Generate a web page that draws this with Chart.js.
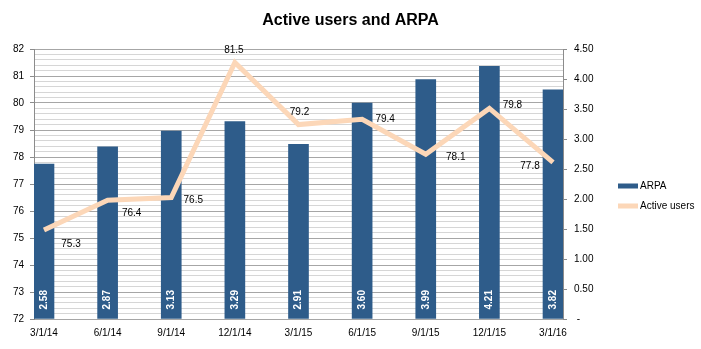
<!DOCTYPE html>
<html><head><meta charset="utf-8">
<script src="https://cdn.jsdelivr.net/npm/chart.js@4.4.1/dist/chart.umd.min.js"></script>
<style>html,body{margin:0;padding:0;background:#fff;}#wrap{width:701px;height:349px;}</style>
</head><body><div id="wrap"><canvas id="c" width="701" height="349"></canvas></div>
<script>
const categories = ['3/1/14','6/1/14','9/1/14','12/1/14','3/1/15','6/1/15','9/1/15','12/1/15','3/1/16'];
const arpa = [2.58, 2.87, 3.13, 3.29, 2.91, 3.60, 3.99, 4.21, 3.82];
const activeUsers = [75.3, 76.4, 76.5, 81.5, 79.2, 79.4, 78.1, 79.8, 77.8];
const seriesNames = ['ARPA', 'Active users'];
const titleText = 'Active users and ARPA';

const FONT = '"Liberation Sans", Arial, sans-serif';
const isInt = v => Math.abs(v - Math.round(v)) < 1e-6;

const valueLabels = {
  id: 'valueLabels',
  afterDatasetsDraw(chart, args, opts) {
    const ctx = chart.ctx;
    ctx.save();
    const barMeta = chart.getDatasetMeta(0);
    ctx.fillStyle = '#ffffff';
    ctx.font = 'bold 10px ' + FONT;
    barMeta.data.forEach((el, i) => {
      ctx.save();
      ctx.translate(el.x, el.base - 9);
      ctx.rotate(-Math.PI / 2);
      ctx.textAlign = 'left';
      ctx.textBaseline = 'middle';
      ctx.fillText(arpa[i].toFixed(2), 0, 0);
      ctx.restore();
    });
    const lineMeta = chart.getDatasetMeta(1);
    ctx.fillStyle = '#000';
    ctx.font = '10px ' + FONT;
    ctx.textAlign = 'center';
    ctx.textBaseline = 'middle';
    lineMeta.data.forEach((pt, i) => {
      const o = opts.offsets[i];
      ctx.fillText(activeUsers[i].toFixed(1), pt.x + o[0], pt.y + o[1]);
    });
    ctx.restore();
  }
};

const sideLegend = {
  id: 'sideLegend',
  afterDraw(chart, args, opts) {
    const ctx = chart.ctx;
    ctx.save();
    ctx.font = '10px ' + FONT;
    ctx.textAlign = 'left';
    ctx.textBaseline = 'middle';
    chart.data.datasets.forEach((ds, i) => {
      const y = opts.y + i * opts.gap;
      ctx.fillStyle = ds.type === 'bar' ? ds.backgroundColor : ds.borderColor;
      ctx.fillRect(opts.x, y - 2.5, 20, 5);
      ctx.fillStyle = '#000';
      ctx.fillText(ds.label, opts.x + 22, y);
    });
    ctx.restore();
  }
};

new Chart(document.getElementById('c'), {
  data: {
    datasets: [
      {
        type: 'bar', label: seriesNames[0],
        data: arpa.map((v, i) => ({x: i, y: v})),
        backgroundColor: '#2E5C8A', borderWidth: 0,
        barThickness: 20, yAxisID: 'y1', xAxisID: 'x', order: 1
      },
      {
        type: 'line', label: seriesNames[1],
        data: activeUsers.map((v, i) => ({x: i, y: v})),
        borderColor: '#FCD7B8', borderWidth: 5, pointRadius: 0, tension: 0,
        yAxisID: 'y', xAxisID: 'x', order: 0, borderJoinStyle: 'miter'
      }
    ]
  },
  options: {
    responsive: false, animation: false, devicePixelRatio: 1,
    layout: {padding: 0},
    plugins: {
      legend: {display: false},
      tooltip: {enabled: false},
      title: {
        display: true, text: titleText, color: '#000',
        font: {family: FONT, size: 16, weight: 'bold'},
        padding: {top: 11, bottom: 18.8}
      },
      valueLabels: {
        offsets: [[27, 14], [24, 13], [22, 3], [-1, -12], [1, -12], [23, 0], [30, 3], [23, -3], [-23, 4]]
      },
      sideLegend: {x: 618, y: 186, gap: 20}
    },
    scales: {
      x: {
        type: 'linear', min: -0.157, max: 8.157, offset: false,
        grid: {display: false, drawTicks: false, offset: false},
        border: {display: false},
        ticks: {
          stepSize: 1, includeBounds: false, autoSkip: false, maxRotation: 0, padding: 8,
          color: '#000', font: {family: FONT, size: 10},
          callback: v => (isInt(v) && categories[Math.round(v)] !== undefined) ? categories[Math.round(v)] : ''
        },
        afterFit: s => { s.height = 30; }
      },
      y: {
        position: 'left', min: 72, max: 82,
        ticks: {
          stepSize: 0.2, autoSkip: false, padding: 6, color: '#000',
          font: {family: FONT, size: 10},
          callback: v => isInt(v) ? String(Math.round(v)) : ''
        },
        grid: {
          color: c => isInt(c.tick.value) ? '#a6a6a6' : '#d6d6d6',
          tickColor: c => isInt(c.tick.value) ? '#8c8c8c' : 'rgba(0,0,0,0)',
          tickLength: 4, lineWidth: 1
        },
        border: {color: '#8c8c8c'},
        afterFit: s => { s.width = 34; }
      },
      y1: {
        position: 'right', min: 0, max: 4.5,
        ticks: {
          stepSize: 0.5, padding: 7, color: '#000',
          font: {family: FONT, size: 10},
          callback: v => v === 0 ? ' -' : Number(v).toFixed(2)
        },
        grid: {drawOnChartArea: false, tickLength: 4, tickColor: '#8c8c8c'},
        border: {color: '#8c8c8c'},
        afterFit: s => { s.width = 138; }
      }
    }
  },
  plugins: [valueLabels, sideLegend]
});
</script></body></html>
